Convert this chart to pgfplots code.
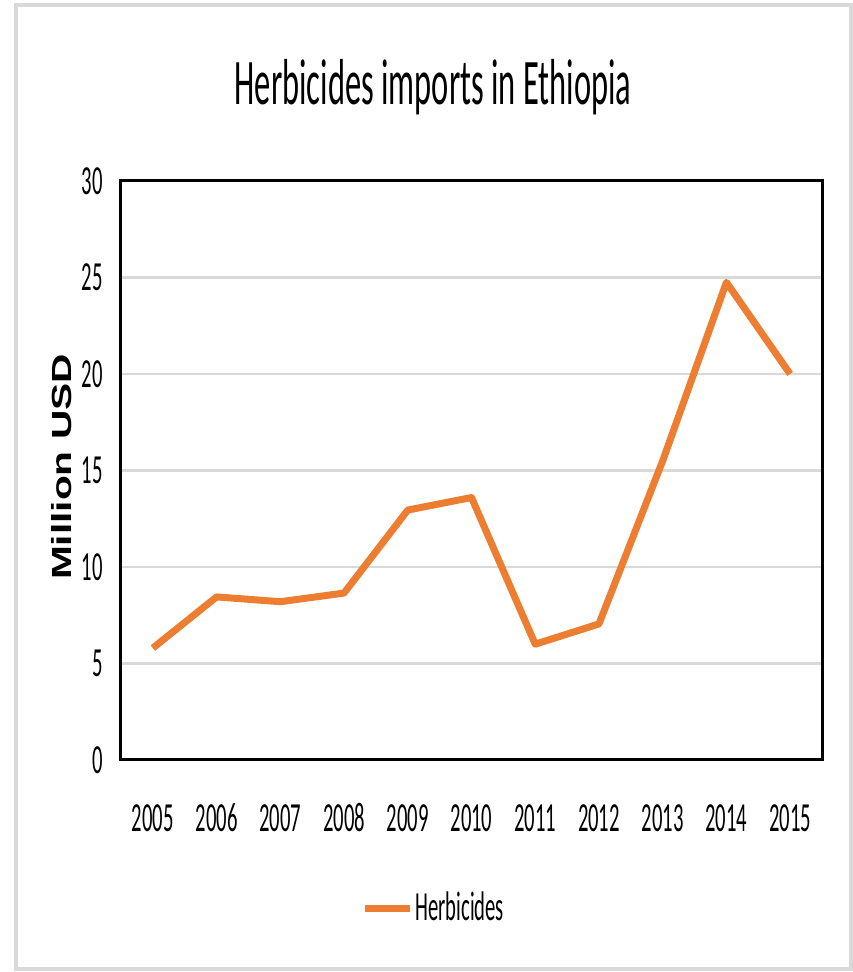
\documentclass[border=0pt]{standalone}
\usepackage{fontspec}
\setmainfont[FakeStretch=0.5]{Carlito}
\newfontfamily\labfont{Liberation Sans}
\usepackage{pgfplots}
\pgfplotsset{compat=1.18}
\definecolor{xlorange}{RGB}{237,125,49}
\definecolor{gridgray}{RGB}{217,217,217}
\begin{document}
\begin{tikzpicture}
\path[use as bounding box, fill=white] (0,0) rectangle (255.9pt,291.6pt);
\draw[gridgray, line width=1.2pt] (4.8pt,0.9pt) rectangle (255.3pt,290.1pt);
\node at (129.9pt,265.5pt) {\fontsize{19.5}{22}\selectfont Herbicides imports in Ethiopia};
\begin{axis}[
  at={(36.3pt,63.6pt)}, anchor=south west,
  scale only axis, width=210.3pt, height=173.7pt,
  xmin=-0.5, xmax=10.5, ymin=0, ymax=30,
  xtick={0,...,10},
  xticklabels={2005,2006,2007,2008,2009,2010,2011,2012,2013,2014,2015},
  ytick={0,5,...,30},
  major tick length=0pt,
  /pgf/number format/assume math mode=true,
  ticklabel style={font=\fontsize{12.4}{14}\selectfont},
  xticklabel style={anchor=north, text height=8pt, text depth=0pt, yshift=-10pt},
  yticklabel style={xshift=-2pt},
  ymajorgrids, grid style={gridgray, line width=0.7pt},
  axis line style={black, line width=0.9pt},
  ylabel={\scalebox{1}[0.68]{\labfont\bfseries\fontsize{12.2}{14}\selectfont Million USD}},
  every axis y label/.style={at={(axis description cs:-0.084,0.506)}, rotate=90, anchor=center},
  legend style={at={(axis description cs:0.446,-0.256)}, anchor=center, draw=none, fill=none,
    font=\fontsize{12.4}{14}\selectfont, inner sep=0pt, nodes={inner xsep=0.5pt}},
  legend image code/.code={\draw[#1, line width=2.1pt] (0pt,0pt) -- (13.5pt,0pt);},
  legend cell align=left,
]
\addplot[xlorange, line width=2.1pt, line join=round, mark=none] coordinates {
  (0,5.8) (1,8.45) (2,8.2) (3,8.65) (4,12.95) (5,13.6) (6,6.0) (7,7.05) (8,15.5) (9,24.75) (10,20.0)
};
\addlegendentry{Herbicides}
\end{axis}
\end{tikzpicture}
\end{document}
